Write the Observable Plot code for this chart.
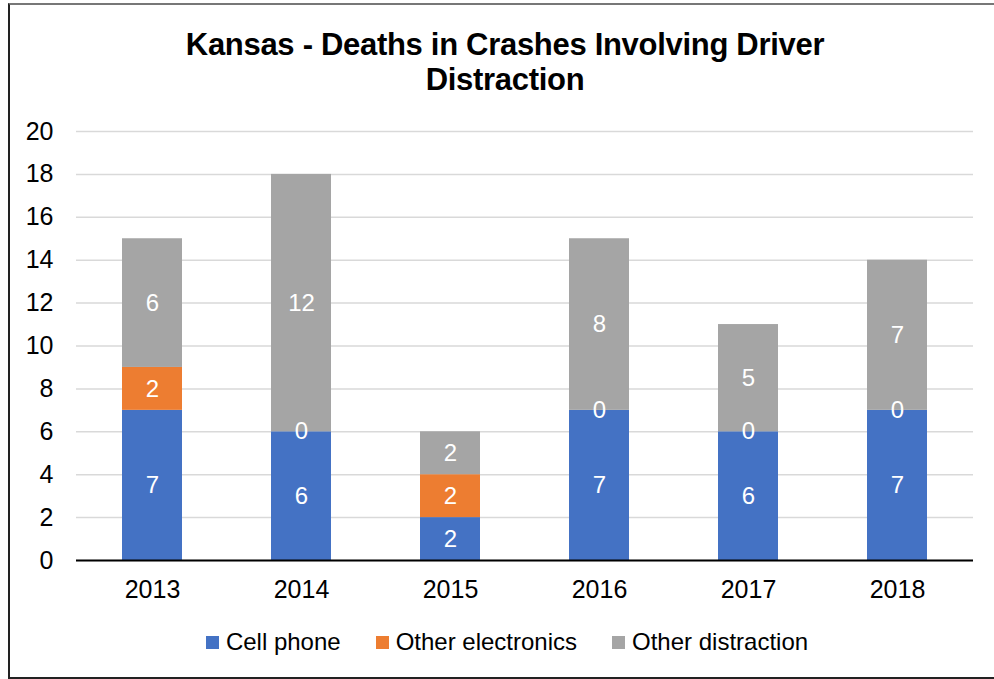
<!DOCTYPE html>
<html>
<head>
<meta charset="utf-8">
<script src="https://cdn.jsdelivr.net/npm/d3@7"></script>
<script src="https://cdn.jsdelivr.net/npm/@observablehq/plot@0.6"></script>
<style>
  html, body { margin: 0; padding: 0; background: #fff; }
  body { width: 994px; height: 679px; position: relative; overflow: hidden; font-family: "Liberation Sans", Arial, sans-serif; }
  #frame { position: absolute; left: 8px; top: 3px; width: 1000px; height: 672px; border-left: 2px solid #222; border-bottom: 2px solid #222; border-top: 2px solid #777; }
  #title { position: absolute; left: 0; top: 27px; width: 1010px; text-align: center; font-weight: bold; font-size: 31px; line-height: 35px; color: #000; letter-spacing: -0.3px; }
  #chart { position: absolute; left: 0; top: 110px; }
  #legend { position: absolute; left: 0; top: 628px; width: 1014px; display: flex; justify-content: center; gap: 35px; font-size: 24px; line-height: 28px; color: #000; }
  .item { display: flex; align-items: center; }
  .sw { width: 13px; height: 13px; margin-right: 7px; margin-top: 1px; }
</style>
</head>
<body>
<div id="frame"></div>
<div id="title">Kansas - Deaths in Crashes Involving Driver<br>Distraction</div>
<div id="chart"></div>
<div id="legend"></div>
<script>
const years = ["2013", "2014", "2015", "2016", "2017", "2018"];
const seriesNames = ["Cell phone", "Other electronics", "Other distraction"];
const cellPhone = [7, 6, 2, 7, 6, 7];
const otherElectronics = [2, 0, 2, 0, 0, 0];
const otherDistraction = [6, 12, 2, 8, 5, 7];
const seriesColors = ["#4472C4", "#ED7D31", "#A5A5A5"];
const yTicks = [0, 2, 4, 6, 8, 10, 12, 14, 16, 18, 20];

const valuesBySeries = [cellPhone, otherElectronics, otherDistraction];
const rows = [];
seriesNames.forEach((s, si) => {
  years.forEach((y, yi) => rows.push({year: y, series: s, value: valuesBySeries[si][yi]}));
});

const chart = Plot.plot({
  width: 994,
  height: 500,
  marginLeft: 76,
  marginRight: 21,
  marginTop: 21,
  marginBottom: 50,
  style: {fontFamily: "'Liberation Sans', Arial, sans-serif", fontSize: "25px", color: "#000", background: "transparent", overflow: "visible"},
  x: {domain: years, paddingInner: 0.6, paddingOuter: 0.3, label: null, tickSize: 0, tickPadding: 20},
  y: {domain: [0, 20], ticks: yTicks, label: null, tickSize: 0, tickPadding: 23},
  color: {domain: seriesNames, range: seriesColors},
  marks: [
    Plot.gridY(yTicks, {stroke: "#d9d9d9", strokeOpacity: 1, strokeWidth: 1.5}),
    Plot.barY(rows, Plot.stackY({x: "year", y: "value", fill: "series", z: "series"})),
    Plot.text(rows, Plot.stackY({x: "year", y: "value", z: "series", text: d => String(d.value), fill: "white", fontSize: 24})),
    Plot.ruleY([0], {stroke: "#000", strokeWidth: 2})
  ]
});
document.getElementById("chart").appendChild(chart);

const legend = document.getElementById("legend");
seriesNames.forEach((s, i) => {
  const item = document.createElement("div");
  item.className = "item";
  const sw = document.createElement("span");
  sw.className = "sw";
  sw.style.background = seriesColors[i];
  const label = document.createElement("span");
  label.textContent = s;
  item.appendChild(sw);
  item.appendChild(label);
  legend.appendChild(item);
});
</script>
</body>
</html>
